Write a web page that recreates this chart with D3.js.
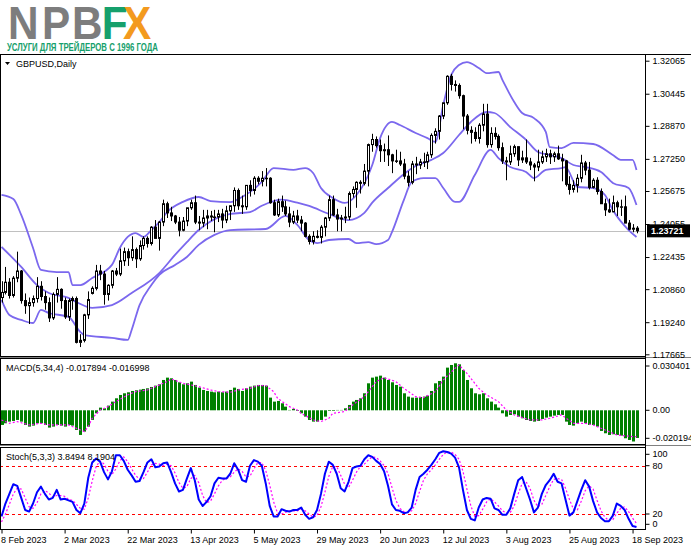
<!DOCTYPE html>
<html><head><meta charset="utf-8">
<script src="https://cdn.jsdelivr.net/npm/d3@7"></script>
<style>body{margin:0;background:#fff}svg{display:block}text{font-family:"Liberation Sans",Arial,sans-serif}</style>
</head><body>
<svg id="c" width="691" height="549"></svg>
<script>
// ---------------- DATA ----------------
const opens = [1.2045,1.2070,1.2120,1.2055,1.2140,1.2175,1.2030,1.2005,1.2020,1.2040,
1.2100,1.2050,1.2020,1.1945,1.2060,1.2085,1.2030,1.1950,1.2030,1.2040,
1.1825,1.1835,1.1960,1.2065,1.2090,1.2175,1.2160,1.2060,1.2105,1.2175,
1.2160,1.2225,1.2270,1.2240,1.2280,1.2235,1.2300,1.2335,1.2310,1.2390,
1.2335,1.2415,1.2505,1.2460,1.2445,1.2415,1.2375,1.2420,1.2485,1.2510,
1.2415,1.2410,1.2435,1.2445,1.2440,1.2440,1.2455,1.2425,1.2470,1.2495,
1.2570,1.2495,1.2490,1.2595,1.2570,1.2630,1.2615,1.2630,1.2630,1.2510,
1.2450,1.2515,1.2490,1.2455,1.2415,1.2445,1.2425,1.2410,1.2345,1.2320,
1.2345,1.2340,1.2390,1.2435,1.2525,1.2450,1.2430,1.2435,1.2440,1.2555,
1.2575,1.2610,1.2605,1.2665,1.2795,1.2820,1.2790,1.2765,1.2770,1.2745,
1.2715,1.2715,1.2700,1.2640,1.2610,1.2700,1.2695,1.2710,1.2710,1.2745,
1.2840,1.2860,1.2935,1.3000,1.3130,1.3090,1.3085,1.3035,1.2935,1.2865,
1.2855,1.2825,1.2890,1.2945,1.2795,1.2850,1.2835,1.2780,1.2715,1.2710,
1.2750,1.2785,1.2720,1.2730,1.2710,1.2695,1.2685,1.2710,1.2735,1.2750,
1.2735,1.2750,1.2725,1.2715,1.2600,1.2575,1.2595,1.2630,1.2705,1.2670,
1.2585,1.2620,1.2565,1.2505,1.2475,1.2465,1.2510,1.2490,1.2490,1.2410,
1.2380,1.2385];
const highs = [1.2125,1.2195,1.2140,1.2150,1.2270,1.2180,1.2065,1.2045,1.2055,1.2145,
1.2125,1.2075,1.2045,1.2070,1.2145,1.2090,1.2045,1.2040,1.2050,1.2050,
1.1865,1.1965,1.2075,1.2100,1.2205,1.2205,1.2175,1.2110,1.2180,1.2190,
1.2285,1.2290,1.2285,1.2345,1.2290,1.2325,1.2345,1.2345,1.2395,1.2425,
1.2420,1.2525,1.2515,1.2490,1.2450,1.2440,1.2440,1.2485,1.2525,1.2545,
1.2445,1.2475,1.2475,1.2470,1.2475,1.2475,1.2480,1.2495,1.2495,1.2585,
1.2580,1.2545,1.2595,1.2620,1.2640,1.2640,1.2665,1.2680,1.2635,1.2525,
1.2530,1.2545,1.2520,1.2490,1.2470,1.2475,1.2445,1.2415,1.2355,1.2370,
1.2375,1.2400,1.2440,1.2545,1.2545,1.2480,1.2450,1.2490,1.2565,1.2590,
1.2615,1.2620,1.2700,1.2800,1.2848,1.2835,1.2820,1.2800,1.2840,1.2750,
1.2770,1.2760,1.2725,1.2665,1.2715,1.2735,1.2725,1.2755,1.2760,1.2850,
1.2875,1.2940,1.3000,1.3135,1.3142,1.3110,1.3095,1.3040,1.2945,1.2885,
1.2880,1.2900,1.2995,1.2995,1.2880,1.2880,1.2845,1.2805,1.2735,1.2790,
1.2795,1.2785,1.2765,1.2820,1.2730,1.2705,1.2770,1.2765,1.2775,1.2770,
1.2760,1.2790,1.2750,1.2720,1.2640,1.2620,1.2650,1.2745,1.2715,1.2710,
1.2630,1.2635,1.2580,1.2530,1.2530,1.2545,1.2520,1.2525,1.2545,1.2425,
1.2405,1.2395];
const lows = [1.2020,1.2060,1.2040,1.2045,1.2120,1.2015,1.1965,1.1915,1.2000,1.2020,
1.2030,1.1985,1.1925,1.1935,1.2020,1.1990,1.1940,1.1930,1.1985,1.1820,
1.1802,1.1825,1.1940,1.2060,1.2080,1.2130,1.2010,1.2030,1.2090,1.2150,
1.2150,1.2200,1.2200,1.2225,1.2190,1.2225,1.2280,1.2290,1.2300,1.2335,
1.2275,1.2395,1.2435,1.2420,1.2405,1.2345,1.2370,1.2395,1.2475,1.2405,
1.2375,1.2390,1.2380,1.2420,1.2365,1.2415,1.2385,1.2410,1.2425,1.2465,
1.2475,1.2455,1.2475,1.2540,1.2550,1.2600,1.2590,1.2590,1.2505,1.2445,
1.2440,1.2465,1.2445,1.2390,1.2405,1.2410,1.2370,1.2340,1.2305,1.2305,
1.2335,1.2310,1.2345,1.2420,1.2445,1.2370,1.2370,1.2410,1.2425,1.2535,
1.2485,1.2555,1.2595,1.2590,1.2760,1.2780,1.2710,1.2710,1.2690,1.2655,
1.2705,1.2690,1.2625,1.2590,1.2600,1.2650,1.2675,1.2685,1.2675,1.2730,
1.2800,1.2820,1.2920,1.2990,1.3060,1.3055,1.3020,1.2870,1.2845,1.2800,
1.2810,1.2800,1.2860,1.2780,1.2780,1.2820,1.2765,1.2700,1.2620,1.2695,
1.2735,1.2690,1.2705,1.2700,1.2670,1.2615,1.2665,1.2700,1.2710,1.2700,
1.2710,1.2720,1.2615,1.2590,1.2550,1.2560,1.2560,1.2610,1.2645,1.2575,
1.2580,1.2550,1.2505,1.2445,1.2460,1.2465,1.2445,1.2445,1.2410,1.2375,
1.2365,1.2360];
const closes = [1.2070,1.2120,1.2055,1.2140,1.2175,1.2030,1.2005,1.2020,1.2040,1.2100,
1.2050,1.2020,1.1945,1.2060,1.2085,1.2030,1.1950,1.2030,1.2040,1.1825,
1.1835,1.1960,1.2035,1.2090,1.2175,1.2160,1.2060,1.2105,1.2175,1.2160,
1.2225,1.2270,1.2240,1.2280,1.2235,1.2300,1.2335,1.2310,1.2390,1.2335,
1.2415,1.2505,1.2460,1.2445,1.2415,1.2375,1.2420,1.2485,1.2510,1.2415,
1.2410,1.2435,1.2445,1.2440,1.2440,1.2455,1.2425,1.2470,1.2495,1.2570,
1.2495,1.2490,1.2595,1.2570,1.2630,1.2615,1.2630,1.2630,1.2510,1.2450,
1.2515,1.2490,1.2455,1.2415,1.2445,1.2425,1.2410,1.2345,1.2320,1.2345,
1.2340,1.2390,1.2435,1.2525,1.2450,1.2430,1.2435,1.2440,1.2555,1.2575,
1.2610,1.2605,1.2665,1.2795,1.2820,1.2790,1.2765,1.2770,1.2745,1.2715,
1.2715,1.2700,1.2640,1.2610,1.2700,1.2695,1.2710,1.2710,1.2745,1.2840,
1.2860,1.2935,1.3000,1.3130,1.3090,1.3085,1.3035,1.2935,1.2865,1.2855,
1.2825,1.2890,1.2945,1.2795,1.2850,1.2835,1.2780,1.2715,1.2710,1.2750,
1.2785,1.2720,1.2730,1.2710,1.2695,1.2685,1.2710,1.2735,1.2750,1.2735,
1.2750,1.2725,1.2715,1.2600,1.2575,1.2595,1.2630,1.2705,1.2670,1.2585,
1.2620,1.2565,1.2505,1.2475,1.2465,1.2510,1.2490,1.2490,1.2410,1.2380,
1.2385,1.23721];

// Bollinger bands: [bar index, price]
const bbUpper = [[0,1.2548],[3,1.2528],[5,1.2450],[8,1.2288],[10,1.2180],[14,1.2170],[17,1.2170],[18,1.2106],[20,1.2106],[23,1.2141],[28,1.2205],[30,1.2288],[32,1.2342],[34,1.2361],[36,1.2342],[38,1.2376],[40,1.2415],[42,1.2464],[46,1.2514],[50,1.2538],[53,1.2518],[58,1.2513],[61,1.2538],[66,1.2612],[69,1.2680],[74,1.2671],[77,1.2680],[79,1.2656],[81,1.2582],[84,1.2533],[87,1.2509],[90,1.2548],[94,1.2695],[96,1.2827],[99,1.2906],[101,1.2891],[105,1.2852],[108,1.2827],[110,1.2808],[112,1.2989],[114,1.3136],[116,1.3185],[118,1.3200],[121,1.3171],[123,1.3146],[126,1.3151],[127,1.3112],[130,1.3004],[132,1.2950],[135,1.2925],[138,1.2857],[139,1.2783],[142,1.2778],[145,1.2803],[150,1.2798],[155,1.2744],[157,1.2720],[160,1.2720],[161,1.2670]];
const bbMiddle = [[0,1.2293],[5,1.2195],[9,1.2106],[12,1.2067],[17,1.2043],[19,1.2023],[23,1.1994],[28,1.2008],[33,1.2067],[40,1.2165],[44,1.2254],[47,1.2317],[50,1.2376],[58,1.2455],[63,1.2464],[66,1.2495],[71,1.2525],[75,1.2510],[78,1.2494],[83,1.2455],[88,1.2425],[92,1.2460],[94,1.2510],[98,1.2582],[102,1.2650],[105,1.2690],[109,1.2720],[112,1.2754],[116,1.2842],[119,1.2906],[123,1.2955],[125,1.2950],[129,1.2881],[133,1.2818],[136,1.2759],[139,1.2744],[142,1.2729],[145,1.2695],[148,1.2685],[152,1.2661],[155,1.2607],[159,1.2582],[161,1.2499]];
const bbLower = [[0,1.2033],[2,1.1959],[5,1.1935],[8,1.1920],[10,1.1984],[12,1.1969],[17,1.1950],[20,1.1876],[21,1.1861],[28,1.1847],[32,1.1837],[33,1.1886],[35,1.2008],[38,1.2106],[40,1.2156],[44,1.2205],[47,1.2244],[50,1.2303],[54,1.2352],[58,1.2376],[67,1.2381],[72,1.2445],[75,1.2401],[78,1.2327],[80,1.2312],[83,1.2327],[88,1.2332],[90,1.2312],[93,1.2317],[95,1.2307],[98,1.2327],[99,1.2366],[102,1.2523],[104,1.2612],[107,1.2631],[110,1.2631],[112,1.2582],[115,1.2514],[116,1.2514],[120,1.2646],[124,1.2769],[126,1.2729],[129,1.2685],[133,1.2661],[135,1.2631],[138,1.2671],[142,1.2680],[143,1.2685],[146,1.2587],[150,1.2582],[153,1.2548],[155,1.2474],[159,1.2376],[161,1.2342]];

const macdHist = [-0.00949,-0.00841,-0.00733,-0.00690,-0.00625,-0.00733,-0.00949,-0.01056,-0.00992,-0.00841,
-0.00841,-0.00949,-0.01121,-0.01056,-0.00949,-0.00992,-0.01056,-0.00949,-0.00992,-0.01272,
-0.01595,-0.01380,-0.01056,-0.00625,-0.00194,0.00172,0.00129,0.00302,0.00561,0.00776,
0.00992,0.01100,0.01164,0.01250,0.01294,0.01337,0.01380,0.01423,0.01509,0.01595,
0.01682,0.01962,0.02113,0.02070,0.01962,0.01811,0.01682,0.01746,0.01854,0.01639,
0.01466,0.01315,0.01250,0.01207,0.01164,0.01207,0.01164,0.01207,0.01315,0.01466,
0.01380,0.01250,0.01423,0.01531,0.01595,0.01639,0.01639,0.01595,0.00819,0.00561,
0.00604,0.00453,0.00237,0.00022,0.00086,-0.00043,-0.00194,-0.00410,-0.00625,-0.00733,
-0.00733,-0.00625,-0.00410,-0.00043,-0.00043,0.00022,0.00022,0.00129,0.00345,0.00561,
0.00668,0.00776,0.01100,0.01746,0.02113,0.02178,0.02242,0.02113,0.01962,0.01811,
0.01639,0.01531,0.01100,0.00884,0.00819,0.00819,0.00862,0.00884,0.00949,0.01250,
0.01746,0.01897,0.02178,0.02760,0.02932,0.03040,0.02975,0.02609,0.01962,0.01423,
0.01100,0.01035,0.01100,0.00776,0.00561,0.00388,0.00172,-0.00194,-0.00410,-0.00302,
-0.00259,-0.00410,-0.00517,-0.00625,-0.00690,-0.00733,-0.00690,-0.00561,-0.00474,-0.00410,
-0.00345,-0.00302,-0.00302,-0.00733,-0.00949,-0.00992,-0.00841,-0.00733,-0.00841,-0.00949,
-0.00949,-0.01056,-0.01337,-0.01488,-0.01595,-0.01552,-0.01595,-0.01639,-0.01811,-0.01919,
-0.02019,-0.017894];
const macdSignal = [[0,-0.00625],[2,-0.00841],[4,-0.00733],[7,-0.00949],[10,-0.00841],[12,-0.00949],[15,-0.00949],[17,-0.00949],[20,-0.01272],[21,-0.01380],[22,-0.01056],[23,-0.00517],[25,0.00022],[27,0.00237],[29,0.00561],[32,0.00992],[34,0.01207],[37,0.01315],[39,0.01531],[42,0.01854],[43,0.02027],[46,0.01746],[48,0.01639],[50,0.01531],[53,0.01315],[55,0.01207],[58,0.01164],[60,0.01315],[63,0.01423],[65,0.01595],[67,0.01595],[69,0.01207],[70,0.00776],[73,0.00237],[75,0.00022],[76,-0.00194],[79,-0.00625],[81,-0.00733],[83,-0.00517],[84,-0.00194],[87,-0.00086],[89,0.00345],[92,0.00884],[95,0.01854],[97,0.02113],[100,0.01854],[102,0.01423],[105,0.00884],[107,0.00819],[110,0.01207],[112,0.01962],[115,0.02717],[116,0.02932],[118,0.02393],[121,0.01423],[123,0.00992],[126,0.00561],[128,0.00022],[130,-0.00302],[134,-0.00625],[137,-0.00625],[139,-0.00517],[142,-0.00302],[145,-0.00841],[148,-0.00841],[150,-0.00949],[153,-0.01272],[156,-0.01595],[160,-0.01703],[161,-0.016998]];

const stochMain = [17,33,45,57,55,40,25,23,33,47,54,45,38,40,50,38,39,37,35,25,
21,33,65,84,89,85,72,63,73,93,93,86,75,68,60,61,72,84,88,78,
79,83,84,72,58,48,50,64,77,62,38,30,35,42,58,65,64,64,70,83,
75,62,60,80,87,85,80,58,30,17,17,26,24,23,25,25,28,19,14,16,
25,45,70,85,81,70,52,48,60,77,79,80,88,93,91,86,82,73,55,32,
25,24,21,22,28,50,66,70,75,81,88,96,98,97,95,90,78,50,25,14,
12,28,38,40,39,27,25,19,19,27,45,62,66,52,38,22,28,45,56,62,
70,60,58,38,18,22,36,50,62,54,36,22,15,11,11,18,33,30,25,14,
5,3.8494];
const stochSignal = [10,20,32,45,52,51,40,29,27,34,45,49,46,41,43,43,42,38,37,32,
27,26,40,61,79,86,82,73,69,76,86,91,85,76,68,63,64,72,81,83,
82,80,82,80,71,59,52,54,64,68,59,43,34,36,45,55,62,64,66,72,
76,73,66,67,76,84,84,74,56,35,21,20,22,24,24,24,26,24,20,16,
18,29,47,67,79,79,68,57,53,62,72,79,82,87,91,90,86,80,70,53,
37,27,23,22,24,33,48,62,70,75,81,88,94,97,97,94,88,73,51,30,
17,18,26,35,39,35,30,24,21,22,30,45,58,60,52,37,29,32,43,54,
63,64,63,52,38,26,25,36,49,55,51,37,24,16,12,13,21,27,29,23,
15,8.1904];

const priceTicks = [1.32065,1.30445,1.28870,1.27250,1.25675,1.24055,1.22435,1.20860,1.19240,1.17665];
const lastPrice = 1.23721;
const macdTicks = [0.030401,0.00,-0.020194];
const macdTickLabels = ["0.030401","0.00","-0.020194"];
const stochTicks = [100,80,20,0];
const stochLevels = [80,20];
const dateBars = [0,16,32,48,64,80,96,112,128,144,160];
const dateLabels = ["8 Feb 2023","2 Mar 2023","22 Mar 2023","13 Apr 2023","5 May 2023","29 May 2023","20 Jun 2023","12 Jul 2023","3 Aug 2023","25 Aug 2023","18 Sep 2023"];
const titleText = "GBPUSD,Daily";
const macdTitle = "MACD(5,34,4) -0.017894 -0.016998";
const stochTitle = "Stoch(5,3,3) 3.8494 8.1904";
const logoLetters = ["N","P","B","F","X"];
const logoSub = "УСЛУГИ ДЛЯ ТРЕЙДЕРОВ С 1996 ГОДА";

// ---------------- DRAW ----------------
const svg = d3.select('#c');
const R = 645.5;
const P = {top:54.5, bottom:356.5}, M = {top:358.5, bottom:444.5}, S = {top:447.5, bottom:529.5};
const x = d3.scaleLinear().domain([0,161]).range([1.5,636.5]);
const yP = d3.scaleLinear().domain([1.17665,1.32065]).range([354.3,60.7]);
const yM = d3.scaleLinear().domain([-0.020194,0.030401]).range([441.5,363.3]);
const yS = d3.scaleLinear().domain([0,100]).range([530.1,449.6]);
const font = 9;

svg.append('rect').attr('width',691).attr('height',549).attr('fill','#fff');

// logo (single text element with coloured tspans)
const lt = svg.append('text').attr('transform','translate(8,38.5) scale(0.92,1)')
  .attr('font-size',46).attr('font-weight','bold');
const lx = [0,37,69.6,102,125], lc = ['#7d7d7d','#7d7d7d','#7d7d7d','#16a06c','#f39a1e'];
logoLetters.forEach((t,i)=>lt.append('tspan').attr('x',lx[i]).attr('fill',lc[i]).text(t));
svg.append('text').attr('x',7).attr('y',51).attr('font-size',10.5).attr('font-weight','bold').attr('fill','#16a06c')
  .attr('textLength',151).attr('lengthAdjust','spacingAndGlyphs').text(logoSub);

// clip paths
const defs = svg.append('defs');
[['cp',P],['cm',M],['cs',S]].forEach(([id,b])=>defs.append('clipPath').attr('id',id).append('rect')
  .attr('x',1).attr('y',b.top+0.5).attr('width',R-1.5).attr('height',b.bottom-b.top-1));

// ---- main panel ----
const gp = svg.append('g').attr('clip-path','url(#cp)');
gp.append('line').attr('x1',0).attr('x2',R).attr('y1',Math.round(yP(lastPrice))+0.5).attr('y2',Math.round(yP(lastPrice))+0.5)
  .attr('stroke','#c0c0c0').attr('stroke-width',1);
const bbLine = d3.line().x(d=>x(d[0])).y(d=>yP(d[1])).curve(d3.curveMonotoneX);
[bbUpper,bbMiddle,bbLower].forEach(b=>gp.append('path').attr('d',bbLine(b)).attr('fill','none')
  .attr('stroke','#7b68ee').attr('stroke-width',1.8));
const idx = d3.range(closes.length);
const cg = gp.append('g');
idx.forEach(i=>{
  const cx = Math.round(x(i))+0.5;
  cg.append('line').attr('x1',cx).attr('x2',cx).attr('y1',yP(highs[i])).attr('y2',yP(lows[i])).attr('stroke','#000').attr('stroke-width',1);
  const o=opens[i], c=closes[i];
  const y1 = yP(Math.max(o,c)), y2 = yP(Math.min(o,c));
  if (c>=o) {
    cg.append('rect').attr('x',cx-1).attr('y',y1).attr('width',2).attr('height',Math.max(y2-y1,0.5))
      .attr('fill','#fff').attr('stroke','#000').attr('stroke-width',1);
  } else {
    cg.append('rect').attr('x',cx-1.5).attr('y',y1-0.5).attr('width',3).attr('height',Math.max(y2-y1+1,1)).attr('fill','#000');
  }
});
svg.append('path').attr('d','M5,62 L10,62 L7.5,65 Z').attr('fill','#000');
svg.append('text').attr('x',16).attr('y',66.5).attr('font-size',font).attr('fill','#000').text(titleText);

// ---- MACD panel ----
const gm = svg.append('g').attr('clip-path','url(#cm)');
idx.forEach(i=>{
  const cx = Math.round(x(i))+0.5, v = macdHist[i];
  const y0 = yM(0), yv = yM(v);
  gm.append('rect').attr('x',cx-1.5).attr('width',3).attr('y',Math.min(y0,yv)).attr('height',Math.abs(yv-y0)).attr('fill','#008000');
});
gm.append('path').attr('d',d3.line().x(d=>x(d[0])).y(d=>yM(d[1]))(macdSignal)).attr('fill','none')
  .attr('stroke','#ff00ff').attr('stroke-width',1.2).attr('stroke-dasharray','2,2');
svg.append('text').attr('x',6).attr('y',371).attr('font-size',font).attr('fill','#000').text(macdTitle);

// ---- Stoch panel ----
const gs = svg.append('g').attr('clip-path','url(#cs)');
stochLevels.forEach(l=>gs.append('line').attr('x1',0).attr('x2',R).attr('y1',Math.round(yS(l))+0.5).attr('y2',Math.round(yS(l))+0.5)
  .attr('stroke','#ff0000').attr('stroke-dasharray','3,3').attr('stroke-width',1));
gs.append('path').attr('d',d3.line().x((d,i)=>x(i)).y(d=>yS(d))(stochSignal)).attr('fill','none')
  .attr('stroke','#ff00ff').attr('stroke-width',1.2).attr('stroke-dasharray','2,2');
gs.append('path').attr('d',d3.line().x((d,i)=>x(i)).y(d=>yS(d))(stochMain)).attr('fill','none')
  .attr('stroke','#0000ff').attr('stroke-width',2).attr('stroke-linejoin','round');
svg.append('text').attr('x',6).attr('y',460).attr('font-size',font).attr('fill','#000').text(stochTitle);

// ---- frames ----
svg.append('line').attr('x1',0).attr('x2',691).attr('y1',P.top).attr('y2',P.top).attr('stroke','#000');
[P,M,S].forEach(b=>{
  svg.append('rect').attr('x',0.5).attr('y',b.top).attr('width',R-0.5).attr('height',b.bottom-b.top)
    .attr('fill','none').attr('stroke','#000').attr('stroke-width',1);
});
svg.append('line').attr('x1',0).attr('x2',691).attr('y1',P.bottom+1).attr('y2',P.bottom+1).attr('stroke','#808080');
svg.append('line').attr('x1',0).attr('x2',691).attr('y1',M.bottom+1).attr('y2',M.bottom+1).attr('stroke','#808080');

// ---- axes ----
const ap = svg.append('g').attr('transform',`translate(${R},0)`)
  .call(d3.axisRight(yP).tickValues(priceTicks).tickFormat(d3.format('.5f')).tickSize(4).tickPadding(3));
const am = svg.append('g').attr('transform',`translate(${R},0)`)
  .call(d3.axisRight(yM).tickValues(macdTicks).tickFormat((d,i)=>macdTickLabels[i]).tickSize(4).tickPadding(3));
am.selectAll('.tick').attr('transform',d=>`translate(0,${Math.max(366,Math.min(438.3,yM(d)))})`);
const as = svg.append('g').attr('transform',`translate(${R},0)`)
  .call(d3.axisRight(yS).tickValues(stochTicks).tickFormat(d3.format('d')).tickSize(4).tickPadding(3));
as.selectAll('.tick').attr('transform',d=>`translate(0,${Math.max(454.3,Math.min(524.3,yS(d)))})`);
const at = svg.append('g').attr('transform',`translate(0,${S.bottom})`)
  .call(d3.axisBottom(x).tickValues(dateBars).tickFormat((d,i)=>dateLabels[i]).tickSize(4).tickPadding(3));
at.selectAll('text').attr('text-anchor','start').attr('dx','-1');
[ap,am,as,at].forEach(a=>{
  a.selectAll('.domain').remove();
  a.selectAll('text').attr('font-size',font).attr('font-family','"Liberation Sans",Arial,sans-serif').attr('fill','#000');
  a.selectAll('line').attr('stroke','#000');
});
svg.append('line').attr('x1',R).attr('x2',R).attr('y1',P.top).attr('y2',S.bottom).attr('stroke','#000');

// current price label
const yl = yP(lastPrice);
svg.append('rect').attr('x',647).attr('y',yl-6.5).attr('width',43).attr('height',13).attr('fill','#000');
svg.append('text').attr('x',651).attr('y',yl+3.3).attr('font-size',font).attr('font-weight','bold').attr('fill','#fff').text(d3.format('.5f')(lastPrice));
</script>
</body></html>
